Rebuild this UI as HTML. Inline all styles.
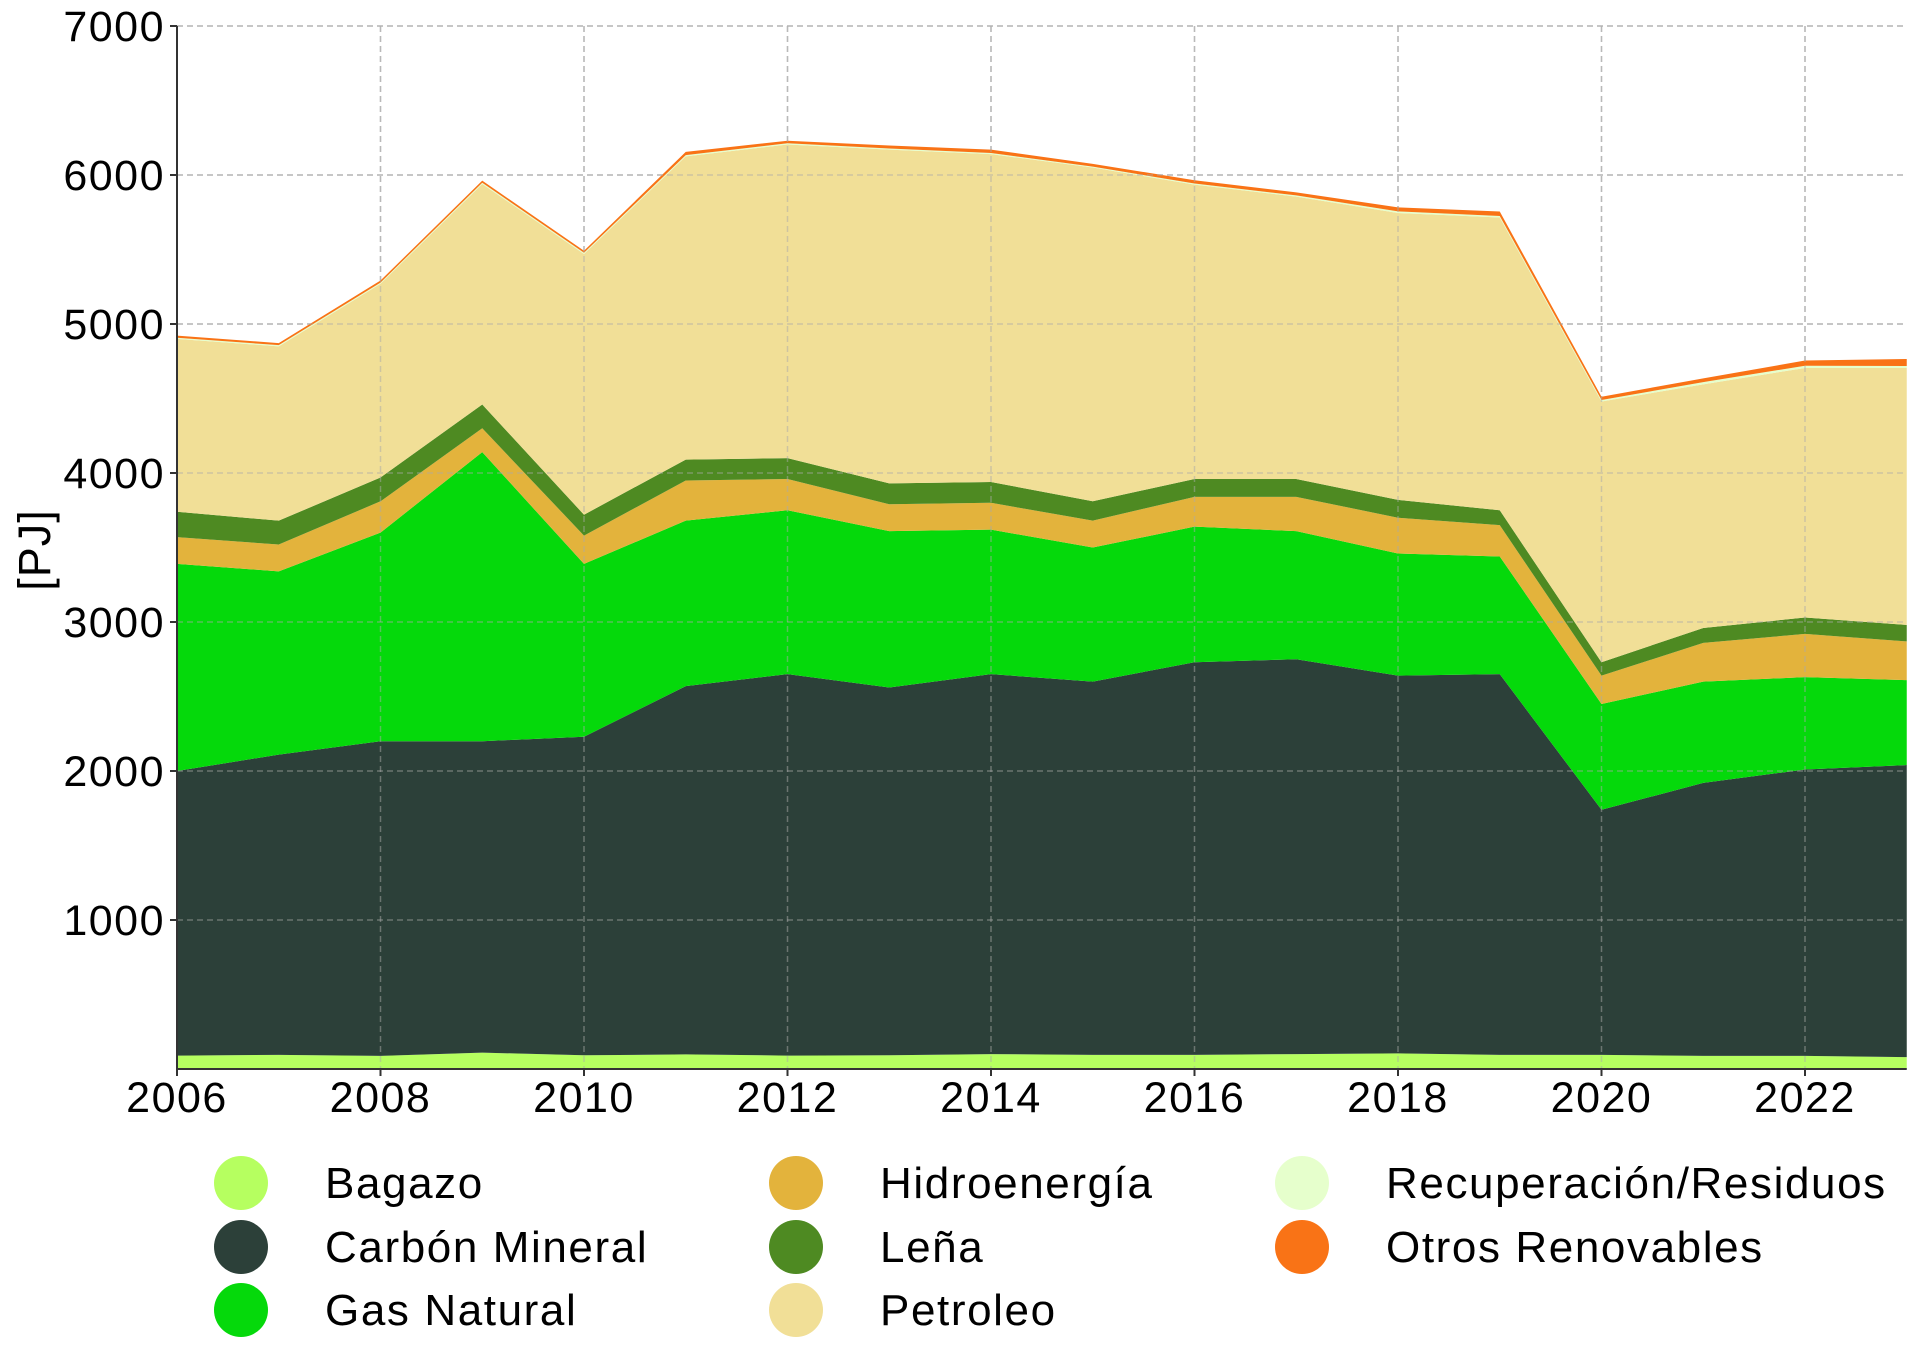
<!DOCTYPE html>
<html><head><meta charset="utf-8"><style>
html,body{margin:0;padding:0;background:#fff;}
svg{display:block;font-family:"Liberation Sans",sans-serif;}
</style></head><body>
<svg id="s" width="1920" height="1365" viewBox="0 0 1920 1365" xmlns="http://www.w3.org/2000/svg"></svg>
<script>
const s=document.getElementById('s');
const X0=177,DX=101.75,Y0=1069,K=0.149;
const xs=i=>X0+i*DX, ys=v=>Y0-v*K;
const tops=[
[90,95,88,110,92,98,90,92,100,95,95,100,105,95,95,88,88,80],
[2000,2110,2200,2200,2230,2570,2650,2560,2650,2600,2730,2750,2640,2650,1740,1920,2010,2040],
[3390,3340,3600,4140,3390,3680,3750,3610,3620,3500,3640,3610,3460,3440,2450,2600,2630,2610],
[3570,3520,3810,4300,3580,3950,3960,3790,3800,3680,3840,3840,3700,3650,2640,2860,2920,2870],
[3740,3680,3970,4460,3720,4090,4100,3930,3940,3810,3960,3960,3820,3750,2730,2960,3030,2980],
[4900,4850,5270,5940,5470,6125,6205,6170,6140,6050,5935,5855,5745,5715,4480,4595,4705,4705],
[4908,4858,5278,5948,5478,6133,6213,6178,6148,6056,5943,5863,5756,5725,4490,4610,4720,4718],
[4922,4872,5292,5962,5492,6155,6230,6198,6170,6075,5965,5883,5783,5755,4512,4635,4755,4765]];
const cols=['#b6ff60','#2c4039','#05d90b','#e3b33c','#4e8a22','#f1df97','#e6ffcc','#f97316'];
let h='';
for(let v=1000;v<=7000;v+=1000)h+=`<line x1="${X0}" x2="${xs(17)}" y1="${ys(v)}" y2="${ys(v)}" stroke="#c8c8c8" stroke-width="1.5" stroke-dasharray="6,4"/>`;
for(let i=2;i<=16;i+=2)h+=`<line x1="${xs(i)}" x2="${xs(i)}" y1="${ys(7000)}" y2="${Y0}" stroke="#c8c8c8" stroke-width="1.5" stroke-dasharray="6,4"/>`;
let prev=new Array(18).fill(0);
tops.forEach((t,k)=>{
 let d='M'+t.map((v,i)=>xs(i)+','+ys(v)).join(' L');
 for(let i=17;i>=0;i--)d+=' L'+xs(i)+','+ys(prev[i]);
 h+=`<path d="${d} Z" fill="${cols[k]}"/>`;
 prev=t;
});
for(let v=1000;v<=7000;v+=1000)h+=`<line x1="${X0}" x2="${xs(17)}" y1="${ys(v)}" y2="${ys(v)}" stroke="#aaa" stroke-opacity="0.5" stroke-width="1.5" stroke-dasharray="6,4"/>`;
for(let i=2;i<=16;i+=2)h+=`<line x1="${xs(i)}" x2="${xs(i)}" y1="${ys(7000)}" y2="${Y0}" stroke="#aaa" stroke-opacity="0.5" stroke-width="1.5" stroke-dasharray="6,4"/>`;
h+=`<line x1="${X0}" x2="${X0}" y1="${ys(7000)}" y2="${Y0}" stroke="#333" stroke-width="2"/>`;
h+=`<line x1="${X0}" x2="${xs(17)}" y1="${Y0}" y2="${Y0}" stroke="#333" stroke-width="2"/>`;
for(let v=1000;v<=7000;v+=1000){h+=`<line x1="${X0-7}" x2="${X0}" y1="${ys(v)}" y2="${ys(v)}" stroke="#333" stroke-width="2"/><text x="${X0-12}" y="${ys(v)+15}" font-size="43" letter-spacing="1.5" text-anchor="end">${v}</text>`;}
for(let i=0;i<=16;i+=2){h+=`<line x1="${xs(i)}" x2="${xs(i)}" y1="${Y0}" y2="${Y0+7}" stroke="#333" stroke-width="2"/><text x="${xs(i)}" y="${Y0+43}" font-size="43" letter-spacing="1.5" text-anchor="middle">${2006+i}</text>`;}
h+=`<text transform="translate(50,550) rotate(-90)" font-size="45" letter-spacing="1" text-anchor="middle">[PJ]</text>`;
const leg=[['Bagazo',0,241,1183],['Carbón Mineral',1,241,1247],['Gas Natural',2,241,1310],['Hidroenergía',3,796,1183],['Leña',4,796,1247],['Petroleo',5,796,1310],['Recuperación/Residuos',6,1302,1183],['Otros Renovables',7,1302,1247]];
leg.forEach(([n,k,x,y])=>{h+=`<circle cx="${x}" cy="${y}" r="27" fill="${cols[k]}"/><text x="${x+84}" y="${y+15}" font-size="44" letter-spacing="1.6">${n}</text>`;});
s.innerHTML=h;
</script>
</body></html>
